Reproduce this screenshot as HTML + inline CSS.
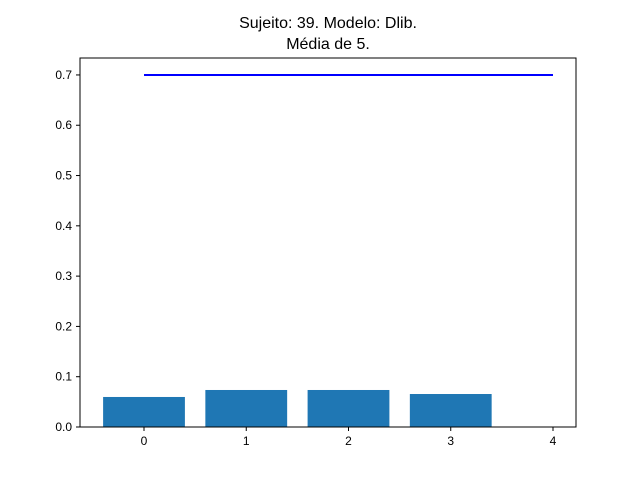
<!DOCTYPE html>
<html><head><meta charset="utf-8"><style>body{margin:0;background:#fff}</style></head>
<body>
<svg id="chart" width="640" height="480" xmlns="http://www.w3.org/2000/svg" font-family="Liberation Sans, DejaVu Sans, sans-serif">
<rect width="640" height="480" fill="#fff"/>
<text x="328" y="28" font-size="16" text-anchor="middle">Sujeito: 39. Modelo: Dlib.</text>
<text x="328" y="49" font-size="16" text-anchor="middle">Média de 5.</text>
<g id="plot"></g>
</svg>
<script>
const categories = [0, 1, 2, 3, 4];
const values = [0.0597, 0.0736, 0.0736, 0.0656, 0];
const meanValue = [0.7];
const yTicks = [0, 0.1, 0.2, 0.3, 0.4, 0.5, 0.6, 0.7];
const yTickLabels = ["0.0","0.1","0.2","0.3","0.4","0.5","0.6","0.7"];

const L=80,R=576,T=58,B=427;
const xMin=-0.626,xMax=4.225,yMin=0,yMax=0.7337;
const xs=v=>L+(v-xMin)/(xMax-xMin)*(R-L);
const ys=v=>B-(v-yMin)/(yMax-yMin)*(B-T);
const ns="http://www.w3.org/2000/svg";
const g=document.getElementById('plot');
function mk(t,a){const e=document.createElementNS(ns,t);for(const k in a)e.setAttribute(k,a[k]);g.appendChild(e);return e;}
categories.forEach((c,i)=>{
  const r=mk('rect',{x:xs(c-0.4),y:ys(values[i]),width:xs(c+0.4)-xs(c-0.4),height:ys(0)-ys(values[i]),fill:'#1f77b4'});
  
  
});
const ln=mk('line',{x1:xs(categories[0]),x2:xs(categories[categories.length-1]),y1:ys(meanValue[0]),y2:ys(meanValue[0]),stroke:'#0000ff','stroke-width':2});


const fr=mk('rect',{x:L,y:T,width:R-L,height:B-T,fill:'none',stroke:'#000','stroke-width':1});


categories.forEach(c=>{
  const x=xs(c);
  mk('line',{x1:x,x2:x,y1:B,y2:B+4,stroke:'#000'});
  const t=mk('text',{x:x,y:B+18,'font-size':12,'text-anchor':'middle'});
  t.textContent=c;
  
  
});
yTicks.forEach((v,i)=>{
  const y=ys(v);
  mk('line',{x1:L-4,x2:L,y1:y,y2:y,stroke:'#000'});
  const t=mk('text',{x:L-8,y:y+4,'font-size':12,'text-anchor':'end'});
  t.textContent=yTickLabels[i];
  
  
});
</script>
</body></html>
